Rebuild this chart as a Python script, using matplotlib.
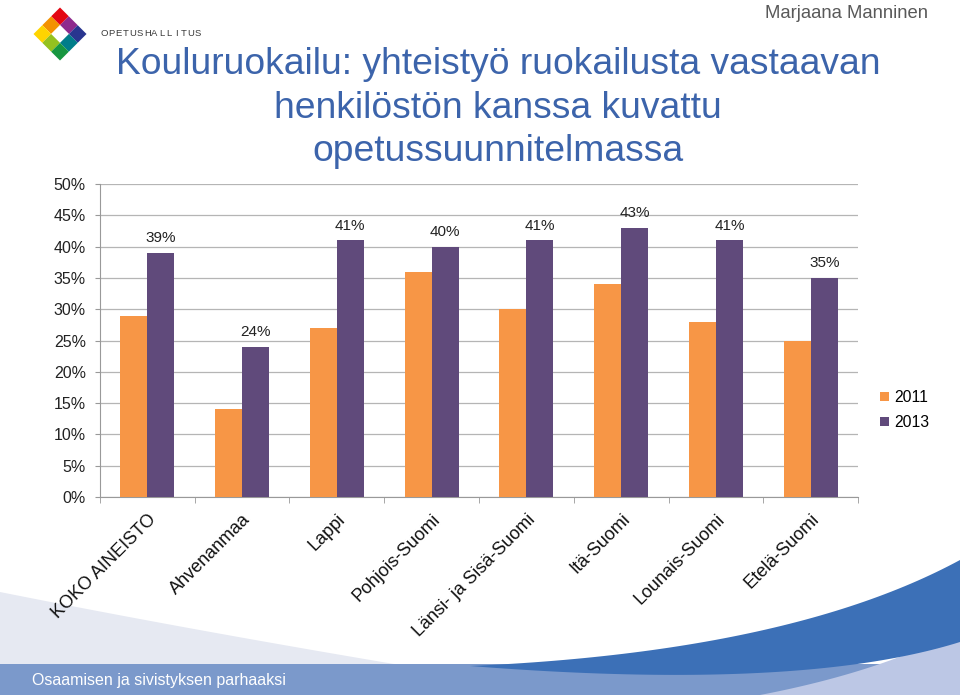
import matplotlib.pyplot as plt
import numpy as np
from matplotlib.patches import Polygon, Rectangle

plt.rcParams['font.family'] = ['Liberation Sans', 'DejaVu Sans']

# data
alueet = ["KOKO AINEISTO", "Ahvenanmaa", "Lappi", "Pohjois-Suomi",
          "Länsi- ja Sisä-Suomi", "Itä-Suomi", "Lounais-Suomi", "Etelä-Suomi"]
v2011 = [29, 14, 27, 36, 30, 34, 28, 25]
v2013 = [39, 24, 41, 40, 41, 43, 41, 35]
yticks = [0, 5, 10, 15, 20, 25, 30, 35, 40, 45, 50]

otsikko = "Kouluruokailu: yhteistyö ruokailusta vastaavan\nhenkilöstön kanssa kuvattu\nopetussuunnitelmassa"

fig = plt.figure(figsize=(9.6, 6.95), dpi=100)

# background decoration (pixel coords)
bg = fig.add_axes([0, 0, 1, 1], zorder=0)
bg.set_xlim(0, 960)
bg.set_ylim(695, 0)
bg.axis("off")


def bez(p0, p1, p2, n=60):
    t = np.linspace(0, 1, n)[:, None]
    p0, p1, p2 = map(np.array, (p0, p1, p2))
    return (1 - t) ** 2 * p0 + 2 * (1 - t) * t * p1 + t ** 2 * p2


# light grey swoosh left
top = bez((0, 592), (180, 628), (400, 665))
bg.add_patch(Polygon(np.vstack([top, [(400, 695), (0, 695)]]), closed=True,
                     fc="#e6e9f2", ec="none"))
# footer band
bg.add_patch(Rectangle((0, 664), 960, 31, fc="#7b99cb", ec="none"))
# lighter bottom right
lr = bez((760, 695), (880, 672), (960, 630))
bg.add_patch(Polygon(np.vstack([lr, [(960, 695)]]), closed=True,
                     fc="#bcc7e5", ec="none"))
# dark blue swoosh
up = bez((470, 666), (790, 652), (960, 560))
lo = bez((960, 642), (800, 692), (470, 666))
bg.add_patch(Polygon(np.vstack([up, lo]), closed=True, fc="#3c70b7", ec="none"))
bg.text(32, 681, "Osaamisen ja sivistyksen parhaaksi", color="white",
        fontsize=11.5, va="center", ha="left")

# logo
cols = [["#e30613", "#8e2a8d", "#29358f"],
        ["#f39200", "white", "#007d8a"],
        ["#ffd400", "#95c11f", "#179640"]]
cx, cy, s = 60, 34, 12.5
for i in range(3):
    for j in range(3):
        u, v = j - 1, i - 1
        x0 = cx + (u - v) * s * 0.7071
        y0 = cy + (u + v) * s * 0.7071
        h = s * 0.7071
        sq = [(x0, y0 - h), (x0 + h, y0), (x0, y0 + h), (x0 - h, y0)]
        bg.add_patch(Polygon(sq, closed=True, fc=cols[i][j], ec="none"))
for k, ch in enumerate("OPETUSHALLITUS"):
    bg.text(104 + k * 7.2, 33, ch, fontsize=6.8, color="#3a3a3a",
            ha="center", va="center")

bg.text(928, 14, "Marjaana Manninen", fontsize=13.3, color="#595959",
        ha="right", va="center")
bg.text(498, 108, otsikko, fontsize=26.8, color="#3c64ab", ha="center",
        va="center", linespacing=1.33)

# chart
ax = fig.add_axes([0.104, 0.285, 0.79, 0.45], zorder=1)
ax.patch.set_alpha(0)
x = np.arange(len(alueet))
w = 0.285
ax.bar(x - w / 2, v2011, w, color="#f79646", label="2011", zorder=3)
ax.bar(x + w / 2, v2013, w, color="#604a7b", label="2013", zorder=3)
for xi, v in zip(x + w / 2, v2013):
    ax.text(xi, v + 1.2, f"{v}%", ha="center", va="bottom", fontsize=11,
            color="#222222")

ax.set_xlim(-0.5, len(alueet) - 0.5)
ax.set_ylim(0, 50)
ax.set_yticks(yticks)
ax.set_yticklabels([f"{t}%" for t in yticks], fontsize=11.5, color="#222222")
ax.yaxis.grid(True, color="#b5b5b5", lw=0.9, zorder=0)
ax.set_xticks(x)
ax.set_xticklabels(alueet, rotation=45, ha="right", rotation_mode="anchor",
                   fontsize=13, color="#111111")
ax.set_xticks(np.arange(-0.5, len(alueet)), minor=True)
ax.tick_params(axis="x", which="major", length=0, pad=10)
ax.tick_params(axis="x", which="minor", length=4, color="#999999")
ax.tick_params(axis="y", length=3.6, color="#999999", pad=6.5)
for sp in ["top", "right"]:
    ax.spines[sp].set_visible(False)
for sp in ["left", "bottom"]:
    ax.spines[sp].set_color("#999999")

fig.legend(loc="center left", bbox_to_anchor=(0.909, 0.41), frameon=False,
           fontsize=11.3, handlelength=0.55, handleheight=0.55,
           handletextpad=0.3, labelspacing=0.65, borderpad=0)

fig.savefig("out.png", dpi=100)
